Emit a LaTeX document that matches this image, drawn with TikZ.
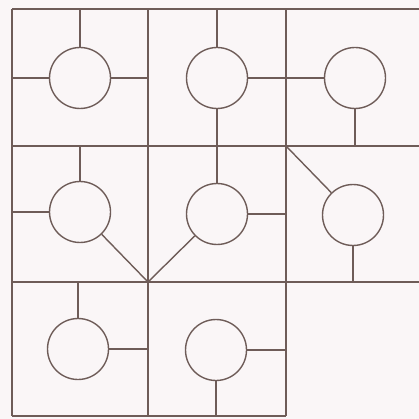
\documentclass[tikz,border=0pt]{standalone}
\definecolor{ink}{HTML}{6E5C58}
\definecolor{paper}{HTML}{FAF6F7}
\tikzset{
  ring/.style={circle, draw=ink, line width=1.4pt, minimum size=61pt, inner sep=0pt},
  wire/.style={draw=ink, line width=1.4pt},
}
\begin{document}
\begin{tikzpicture}[x=1pt,y=-1pt]
\fill[paper] (0,0) rectangle (419,419);
\useasboundingbox (0,0) rectangle (419,419);
% grid
\coordinate (TL) at (12,9);
\coordinate (TR) at (419,9);
\coordinate (BL) at (12,416);
\coordinate (BR) at (286,416);
\coordinate (A1) at (148,9);
\coordinate (A2) at (148,416);
\coordinate (B1) at (286,9);
\coordinate (B2) at (286,416);
\coordinate (H1L) at (12,146);
\coordinate (H1R) at (419,146);
\coordinate (H2L) at (12,282);
\coordinate (H2R) at (419,282);
\path[wire] (TL) -- (TR);
\path[wire] (TL) -- (BL);
\path[wire] (BL) -- (BR);
\path[wire] (A1) -- (A2);
\path[wire] (B1) -- (B2);
\path[wire] (H1L) -- (H1R);
\path[wire] (H2L) -- (H2R);
% circles
\node[ring] (c11) at (80,78) {};
\node[ring] (c12) at (217,78) {};
\node[ring] (c13) at (355,78) {};
\node[ring] (c21) at (80,212) {};
\node[ring] (c22) at (217,214) {};
\node[ring] (c23) at (353,215) {};
\node[ring] (c31) at (78,349) {};
\node[ring] (c32) at (216,350) {};
% end points
\coordinate (t11) at (80,9);
\coordinate (l11) at (12,78);
\coordinate (r11) at (148,78);
\coordinate (t12) at (217,9);
\coordinate (b13) at (355,146);
\coordinate (t21) at (80,146);
\coordinate (l21) at (12,212);
\coordinate (V) at (148,282);
\coordinate (r22) at (286,214);
\coordinate (K) at (286,146);
\coordinate (b23) at (353,282);
\coordinate (t31) at (78,282);
\coordinate (r31) at (148,349);
\coordinate (r32) at (286,350);
\coordinate (b32) at (216,416);
% connectors
\path[wire] (c11) -- (t11);
\path[wire] (c11) -- (l11);
\path[wire] (c11) -- (r11);
\path[wire] (c12) -- (t12);
\path[wire] (c12) -- (c22);
\path[wire] (c12) -- (c13);
\path[wire] (c13) -- (b13);
\path[wire] (c21) -- (t21);
\path[wire] (c21) -- (l21);
\path[wire] (c21) -- (V);
\path[wire] (c22) -- (V);
\path[wire] (c22) -- (r22);
\path[wire] (c23) -- (K);
\path[wire] (c23) -- (b23);
\path[wire] (c31) -- (t31);
\path[wire] (c31) -- (r31);
\path[wire] (c32) -- (r32);
\path[wire] (c32) -- (b32);
\end{tikzpicture}
\end{document}
